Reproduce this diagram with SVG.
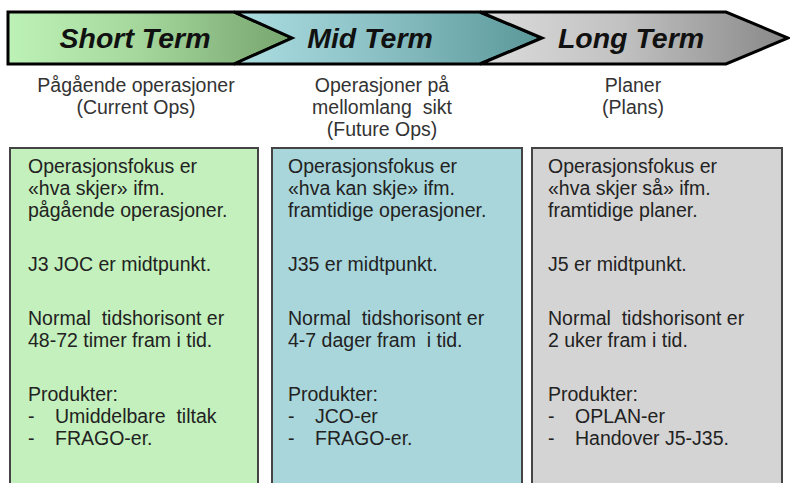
<svg xmlns="http://www.w3.org/2000/svg" width="790" height="483" viewBox="0 0 790 483">
<defs>
<linearGradient id="gShort" x1="0" y1="0" x2="1" y2="0">
<stop offset="0" stop-color="#bdf2b6"/><stop offset="0.45" stop-color="#a6d89d"/><stop offset="1" stop-color="#76a56e"/>
</linearGradient>
<linearGradient id="gMid" x1="0" y1="0" x2="1" y2="0">
<stop offset="0" stop-color="#acdde1"/><stop offset="0.45" stop-color="#8cc2c6"/><stop offset="1" stop-color="#5a9799"/>
</linearGradient>
<linearGradient id="gLong" x1="0" y1="0" x2="1" y2="0">
<stop offset="0" stop-color="#dcdcdc"/><stop offset="0.45" stop-color="#c2c2c2"/><stop offset="1" stop-color="#888888"/>
</linearGradient>
</defs>
<style>
.arrow{stroke:#000;stroke-width:3;stroke-linejoin:miter}
.title{font-family:"Liberation Sans",Arial,sans-serif;font-weight:bold;font-style:italic;font-size:28.5px;fill:#111;text-anchor:middle}
.sub{font-family:"Liberation Sans",Arial,sans-serif;font-size:19.5px;fill:#333;text-anchor:middle}
.box{stroke:#444;stroke-width:2}
.txt{font-family:"Liberation Sans",Arial,sans-serif;font-size:19.5px;fill:#222}
</style>
<rect width="790" height="483" fill="#fff"/>
<g id="short-term">
<polygon class="arrow" fill="url(#gShort)" points="8,12 234,12 292,38 234,64 8,64"/>
<text class="title" x="135" y="48">Short Term</text>
<text class="sub" x="136" y="92">Pågående operasjoner</text>
<text class="sub" x="136" y="114">(Current Ops)</text>
</g>
<g id="mid-term">
<polygon class="arrow" fill="url(#gMid)" points="234,12 480,12 542,38 480,64 234,64 292,38"/>
<text class="title" x="370" y="48">Mid Term</text>
<text class="sub" x="382" y="92">Operasjoner på</text>
<text class="sub" x="382" y="114" xml:space="preserve">mellomlang  sikt</text>
<text class="sub" x="382" y="136">(Future Ops)</text>
</g>
<g id="long-term">
<polygon class="arrow" fill="url(#gLong)" points="480,12 726,12 788,38 726,64 480,64 542,38"/>
<text class="title" x="631" y="48">Long Term</text>
<text class="sub" x="633" y="92">Planer</text>
<text class="sub" x="633" y="114">(Plans)</text>
</g>
<g id="box-short">
<rect class="box" x="10" y="148" width="248" height="345" fill="#c3f0bc"/>
<text class="txt" x="28" y="173">Operasjonsfokus er</text>
<text class="txt" x="28" y="195">«hva skjer» ifm.</text>
<text class="txt" x="28" y="217">pågående operasjoner.</text>
<text class="txt" x="28" y="271">J3 JOC er midtpunkt.</text>
<text class="txt" x="28" y="325" xml:space="preserve">Normal  tidshorisont er</text>
<text class="txt" x="28" y="347">48-72 timer fram i tid.</text>
<text class="txt" x="28" y="401">Produkter:</text>
<text class="txt" x="28" y="423">-</text><text class="txt" x="55" y="423" xml:space="preserve">Umiddelbare  tiltak</text>
<text class="txt" x="28" y="445">-</text><text class="txt" x="55" y="445">FRAGO-er.</text>
</g>
<g id="box-mid">
<rect class="box" x="272" y="148" width="250" height="345" fill="#a8d6db"/>
<text class="txt" x="288" y="173">Operasjonsfokus er</text>
<text class="txt" x="288" y="195">«hva kan skje» ifm.</text>
<text class="txt" x="288" y="217">framtidige operasjoner.</text>
<text class="txt" x="288" y="271">J35 er midtpunkt.</text>
<text class="txt" x="288" y="325" xml:space="preserve">Normal  tidshorisont er</text>
<text class="txt" x="288" y="347" xml:space="preserve">4-7 dager fram  i tid.</text>
<text class="txt" x="288" y="401">Produkter:</text>
<text class="txt" x="288" y="423">-</text><text class="txt" x="315" y="423">JCO-er</text>
<text class="txt" x="288" y="445">-</text><text class="txt" x="315" y="445">FRAGO-er.</text>
</g>
<g id="box-long">
<rect class="box" x="532" y="148" width="250" height="345" fill="#d4d4d4"/>
<text class="txt" x="548" y="173">Operasjonsfokus er</text>
<text class="txt" x="548" y="195">«hva skjer så» ifm.</text>
<text class="txt" x="548" y="217">framtidige planer.</text>
<text class="txt" x="548" y="271">J5 er midtpunkt.</text>
<text class="txt" x="548" y="325" xml:space="preserve">Normal  tidshorisont er</text>
<text class="txt" x="548" y="347">2 uker fram i tid.</text>
<text class="txt" x="548" y="401">Produkter:</text>
<text class="txt" x="548" y="423">-</text><text class="txt" x="575" y="423">OPLAN-er</text>
<text class="txt" x="548" y="445">-</text><text class="txt" x="575" y="445">Handover J5-J35.</text>
</g>
<g id="connectors"/>
</svg>
